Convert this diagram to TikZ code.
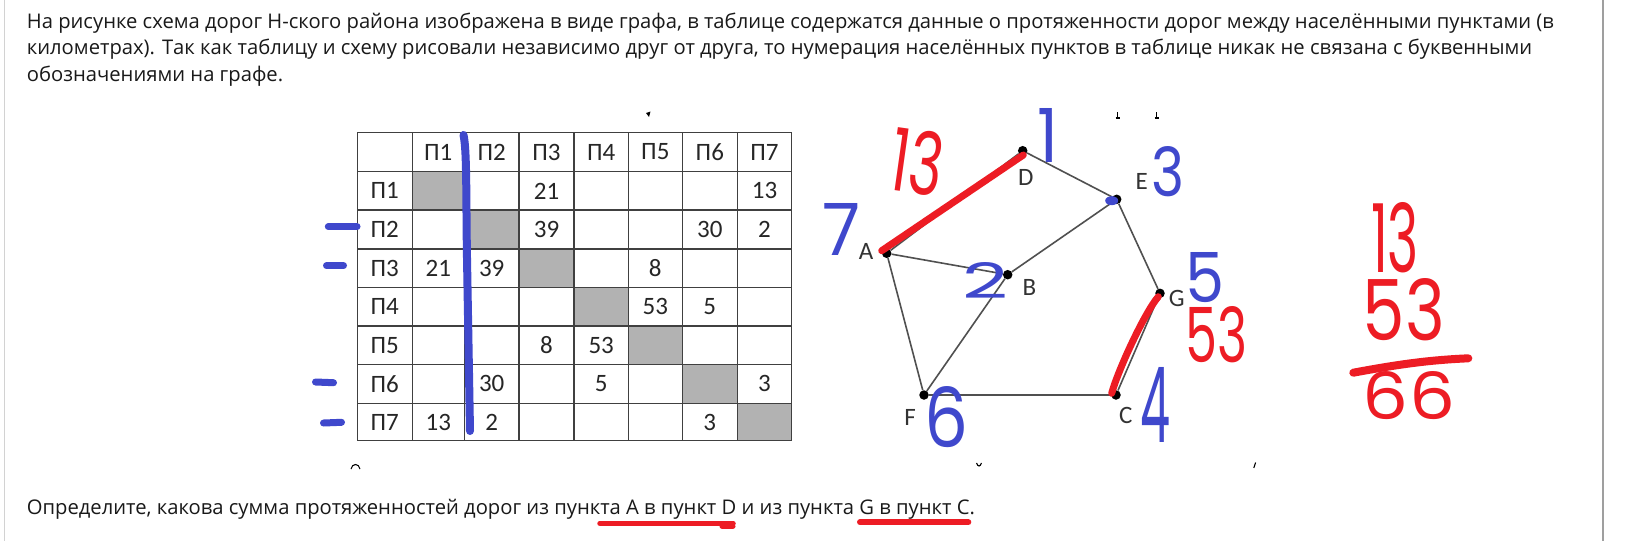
\documentclass[tikz,border=0pt]{standalone}
\usepackage{fontspec}
\setmainfont{Open Sans}
\newfontfamily\tabfont{Carlito}
\newfontfamily\handfont{Poppins}
\usetikzlibrary{calc}
\definecolor{pred}{RGB}{237,28,36}
\definecolor{pblue}{RGB}{63,72,204}
\definecolor{txt}{RGB}{25,25,25}
\definecolor{cellgray}{RGB}{178,178,178}
\definecolor{edgegray}{RGB}{80,80,80}
\newcommand\handnum[3]{\resizebox{#1pt}{#2pt}{\handfont #3}}
\begin{document}
\begin{tikzpicture}[x=1pt,y=-1pt,
 bodytext/.style={anchor=base west, inner sep=0, font=\fontsize{20.2}{25}\selectfont, text=txt},
 cell/.style={font=\tabfont\fontsize{25}{25}\selectfont, text=black!85, inner sep=0},
 grid/.style={draw=black!75, line width=1.5pt},
 vert/.style={circle, fill=black, inner sep=0, minimum size=9.5pt},
 vlabel/.style={font=\tabfont\fontsize{25}{25}\selectfont, text=black!80, inner sep=0},
 road/.style={draw=edgegray, line width=1.6pt},
 redpen/.style={draw=pred, line width=7pt, line cap=round, line join=round},
 bluepen/.style={draw=pblue, line width=7pt, line cap=round, line join=round},
 rednum/.style={text=pred, inner sep=0},
 bluenum/.style={text=pblue, inner sep=0},
 speck/.style={draw=black, line width=1.1pt},
]
\useasboundingbox (0,0) rectangle (1633,541);
\fill[white] (0,0) rectangle (1633,541);
% page borders
\draw[gray!35, line width=1pt] (4.5,0) -- (4.5,541);
\draw[gray!75, line width=2pt] (1602.5,0) -- (1602.5,541);

% text
\node[bodytext] (l1) at (26.7,28.3) {На рисунке схема дорог Н-ского района изображена в виде графа, в таблице содержатся данные о протяженности дорог между населёнными пунктами (в};
\node[bodytext] (l2) at (26.7,54.6) {километрах). Так как таблицу и схему рисовали независимо друг от друга, то нумерация населённых пунктов в таблице никак не связана с буквенными};
\node[bodytext] (l3) at (26.7,81) {обозначениями на графе.};
\node[bodytext] (q) at (26.7,514.3) {Определите, какова сумма протяженностей дорог из пункта A в пункт D и из пункта G в пункт C.};

% table
\fill[cellgray] (412.3,171.7) rectangle (464.3,210);
\fill[cellgray] (464.3,210) rectangle (519,249);
\fill[cellgray] (519,249) rectangle (574,287.7);
\fill[cellgray] (574,287.7) rectangle (628.3,326);
\fill[cellgray] (628.3,326) rectangle (682.3,364.3);
\fill[cellgray] (682.3,364.3) rectangle (737.3,403.3);
\fill[cellgray] (737.3,403.3) rectangle (791.7,440.7);
\foreach \x in {357.3,412.3,464.3,519,574,628.3,682.3,737.3,791.7}
  \draw[grid] (\x,132.3) -- (\x,440.7);
\foreach \y in {132.3,171.7,210,249,287.7,326,364.3,403.3,440.7}
  \draw[grid] (357.3,\y) -- (791.7,\y);
% headers
\foreach \k/\cx in {1/438.3,2/491.7,3/546.5,4/601.2,5/655.3,6/709.8,7/764.5}
  \node[cell] (h\k) at (\cx,152) {П\k};
\foreach \k/\ry in {1/190.9,2/229.5,3/268.4,4/306.9,5/345.2,6/383.8,7/422}
  \node[cell] (r\k) at (384.8,\ry) {П\k};
% values
\node[cell] (v13) at (546.5,190.9) {21};
\node[cell] (v17) at (764.5,190.9) {13};
\node[cell] (v23) at (546.5,229.5) {39};
\node[cell] (v26) at (709.8,229.5) {30};
\node[cell] (v27) at (764.5,229.5) {2};
\node[cell] (v31) at (438.3,268.4) {21};
\node[cell] (v32) at (491.7,268.4) {39};
\node[cell] (v35) at (655.3,268.4) {8};
\node[cell] (v45) at (655.3,306.9) {53};
\node[cell] (v46) at (709.8,306.9) {5};
\node[cell] (v53) at (546.5,345.2) {8};
\node[cell] (v54) at (601.2,345.2) {53};
\node[cell] (v62) at (491.7,383.8) {30};
\node[cell] (v64) at (601.2,383.8) {5};
\node[cell] (v67) at (764.5,383.8) {3};
\node[cell] (v71) at (438.3,422) {13};
\node[cell] (v72) at (491.7,422) {2};
\node[cell] (v76) at (709.8,422) {3};

% blue marks on table
\draw[bluepen, line width=8pt] (463.5,135) .. controls (467,150) and (466,200) .. (467,258) -- (470,431);
\draw[bluepen] (328.3,226.7) -- (357,226.7);
\draw[bluepen] (326.5,265.7) -- (343.5,265.7);
\draw[bluepen] (315.5,382) -- (333.5,382.7);
\draw[bluepen] (323.5,423) -- (341.5,422.3);

% graph
\node[vert] (A) at (886.7,253.3) {};
\node[vert] (B) at (1007.7,274.7) {};
\node[vert] (C) at (1116,395) {};
\node[vert] (D) at (1022.7,150.7) {};
\node[vert] (E) at (1116.7,199.3) {};
\node[vert] (F) at (924,395) {};
\node[vert] (G) at (1160,293.3) {};
\draw[road] (A) -- (D);
\draw[road] (D) -- (E);
\draw[road] (A) -- (B);
\draw[road] (B) -- (E);
\draw[road] (A) -- (F);
\draw[road] (B) -- (F);
\draw[road] (E) -- (G);
\draw[road] (G) -- (C);
\draw[road] (F) -- (C);
\node[vlabel] (lA) at (866,251.7) {A};
\node[vlabel] (lB) at (1029.3,287.7) {B};
\node[vlabel] (lC) at (1125.7,415) {C};
\node[vlabel] (lD) at (1025.7,177.3) {D};
\node[vlabel] (lE) at (1141.7,181) {E};
\node[vlabel] (lF) at (910,417.3) {F};
\node[vlabel] (lG) at (1176.7,298.3) {G};

% red pen over roads
\draw[redpen] ($(A)+(-5,-2.6)$) -- ($(D)+(0.6,4.3)$);
\draw[redpen] ($(G)+(-1.7,3.4)$) .. controls (1145,312) and (1118,370) .. ($(C)+(-4.3,-1.7)$);
\fill[pblue] (1111.7,200.7) ellipse (6.5 and 4.5);

% blue handwritten numbers
\node[bluenum] (n1) at (1047.5,135) {\handnum{21}{54}{1}};
\node[bluenum] (n3) at (1167.5,172) {\handnum{33}{50}{3}};
\node[bluenum] (n7) at (841.5,229) {\handnum{38}{52}{7}};
\node[bluenum] (n2) at (985,280) {\handnum{46}{36}{2}};
\node[bluenum] (n5) at (1205,278) {\handnum{39}{50}{5}};
\node[bluenum] (n6) at (946,417.5) {\handnum{44}{61}{6}};
\node[bluenum] (n4) at (1155.5,404.5) {\handnum{30}{75}{4}};

% red handwritten numbers
\node[rednum, rotate=-8] (m13) at (918,162) {\handnum{52}{64}{13}};
\node[rednum] (k53) at (1216,335) {\handnum{62}{56}{53}};
\node[rednum] (s13) at (1395,238) {\handnum{48}{70}{13}};
\node[rednum] (s53) at (1404,310) {\handnum{82}{62}{53}};
\node[rednum] (s66) at (1409,396) {\handnum{92}{48}{66}};
\draw[redpen, line width=8pt] (1353.3,372.7) .. controls (1400,364) and (1430,360) .. (1468.3,358.3);

% underlines
\draw[redpen, line width=5.5pt] (600,523.3) -- (733,523.3);
\draw[redpen, line width=5pt] (722,526) -- (733,526);
\draw[redpen, line width=6pt] (860,522.3) -- (968.3,522.3);

% cut-off specks of neighbouring text
\fill[black] (646,113) -- (650.5,111.5) -- (649,117) -- cycle;
\draw[speck] (1117.6,112) -- (1117.6,118) (1115.6,118) -- (1119.6,118);
\draw[speck] (1156.6,112) -- (1156.6,118) (1154.6,118) -- (1158.6,118);
\draw[speck] (351,469) .. controls (352,463) and (359,463) .. (360,469);
\draw[speck] (976.5,463) .. controls (978,467) and (980,467) .. (981.5,463);
\draw[speck] (1253.8,468) -- (1255.6,462.5);
\end{tikzpicture}
\end{document}
